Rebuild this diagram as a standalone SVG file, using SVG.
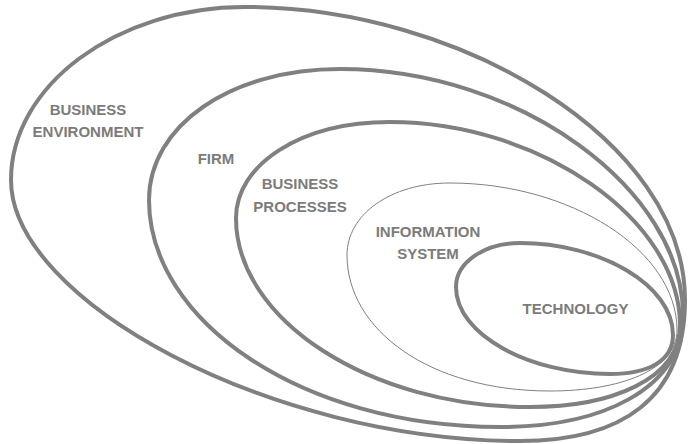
<svg xmlns="http://www.w3.org/2000/svg" width="690" height="444" viewBox="0 0 690 444">
<style>
.ring{fill:none;stroke:#808080;stroke-width:4}
.thin{fill:none;stroke:#808080;stroke-width:1}
text{font-family:"Liberation Sans",Arial,sans-serif;font-weight:bold;font-size:15px;fill:#7b7b7b;text-anchor:middle}
</style>
<rect width="690" height="444" fill="#ffffff"/>
<g id="business-environment">
<path class="ring" d="M11,180 C11,86 116,7 245,7 C460,7 685,140 685,300 C685,400 620,441 520,441 C270,441 11,300 11,180 Z"/>
<text x="88" y="115">BUSINESS</text>
<text x="88" y="137">ENVIRONMENT</text>
</g>
<g id="firm">
<path class="ring" d="M149,200 C149,126 230,69 340,69 C520,69 683,190 683,315 C683,390 600,427 500,427 C300,427 149,320 149,200 Z"/>
<text x="216" y="164">FIRM</text>
</g>
<g id="business-processes">
<path class="ring" d="M236,218 C236,165 300,122 390,122 C540,122 680,220 680,325 C680,380 610,407 530,407 C370,407 236,320 236,218 Z"/>
<text x="300" y="189">BUSINESS</text>
<text x="300" y="212">PROCESSES</text>
</g>
<g id="information-system">
<path class="thin" d="M347,255 C347,215 390,183 450,183 C570,183 677,250 677,330 C677,370 620,391 550,391 C430,391 347,330 347,255 Z"/>
<text x="428" y="237">INFORMATION</text>
<text x="428" y="259">SYSTEM</text>
</g>
<g id="technology">
<path class="ring" d="M456,287 C456,262 485,243 520,243 C600,243 673,285 673,335 C673,360 650,374 610,374 C530,374 456,335 456,287 Z"/>
<text x="575.5" y="314">TECHNOLOGY</text>
</g>
<g id="connectors"></g>
</svg>
